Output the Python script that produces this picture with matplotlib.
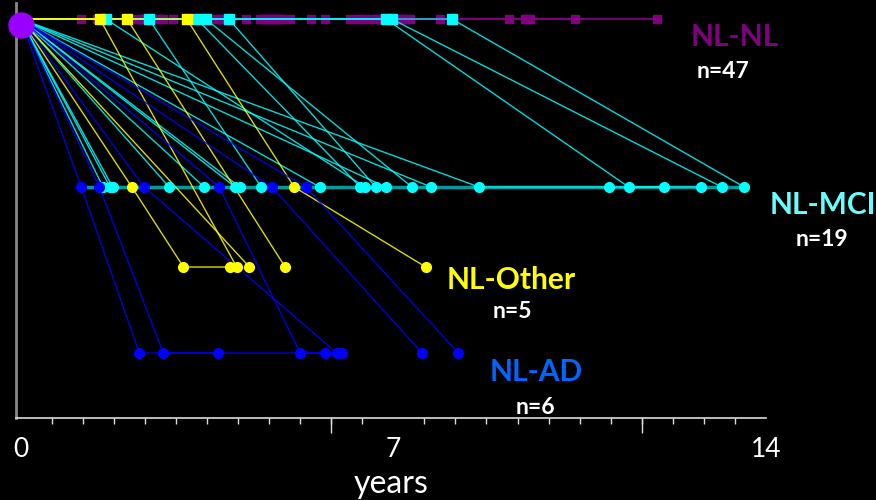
import numpy as np
import matplotlib
matplotlib.use("Agg")
from matplotlib import pyplot as plt

# ---- data (years) ----
rows = {"NL": 3.99, "MCI": 2.31, "Other": 1.51, "AD": 0.65}

# last follow-up of stable subjects (NL-NL, n=47)
nl_nl_last = [1.13, 1.44, 2.21, 2.26, 2.30, 2.34, 2.56, 2.60, 2.68, 2.86,
              3.69, 3.74, 3.78, 3.84, 4.23, 4.50, 4.57, 4.60, 4.65, 4.68,
              4.72, 4.78, 4.82, 4.87, 4.91, 5.07, 5.46, 5.72, 6.19, 6.34,
              6.40, 6.49, 6.64, 6.70, 6.78, 7.06, 7.12, 7.18, 7.25, 7.31,
              7.88, 9.17, 9.47, 9.52, 9.57, 10.41, 11.95]

# converters: visits after baseline, (diagnosis, years)
nl_mci = [
    [("NL", 1.60), ("MCI", 6.47)],
    [("NL", 2.41), ("MCI", 4.52)],
    [("NL", 3.31), ("MCI", 6.38)],
    [("NL", 3.48), ("MCI", 7.35)],
    [("NL", 3.91), ("MCI", 6.67)],
    [("NL", 6.86), ("MCI", 11.42), ("MCI", 12.08)],
    [("NL", 6.97), ("MCI", 13.17)],
    [("NL", 8.10), ("MCI", 13.59)],
    [("MCI", 1.55)],
    [("MCI", 1.68)],
    [("MCI", 1.73)],
    [("MCI", 2.79)],
    [("MCI", 3.45)],
    [("MCI", 4.03)],
    [("MCI", 4.12)],
    [("MCI", 5.62)],
    [("MCI", 6.86)],
    [("MCI", 7.71)],
    [("MCI", 8.61), ("MCI", 11.05), ("MCI", 12.78)],
]
nl_other = [
    [("MCI", 2.09), ("Other", 3.06), ("Other", 3.93)],
    [("NL", 1.49), ("Other", 4.06)],
    [("NL", 2.00), ("Other", 4.97)],
    [("Other", 4.30)],
    [("NL", 3.12), ("MCI", 5.14), ("Other", 7.61)],
]
nl_ad = [
    [("MCI", 1.14), ("AD", 2.23), ("AD", 3.71)],
    [("MCI", 1.48), ("AD", 2.68), ("AD", 5.71)],
    [("MCI", 2.32), ("AD", 5.94)],
    [("MCI", 3.73), ("AD", 5.25), ("AD", 6.03)],
    [("MCI", 4.72), ("AD", 7.54)],
    [("MCI", 5.36), ("AD", 8.22)],
]

purple = "#800080"
cyan = "#00ffff"
teal = "#009a9a"
yellow = "#ffff00"
blue = "#0000ff"
font = ["Lato", "DejaVu Sans"]

fig = plt.figure(figsize=(8.76, 5), dpi=100, facecolor="black")
ax = fig.add_axes([16 / 876, 82 / 500, 750 / 876, 415 / 500])
ax.set_facecolor("black")
ax.set_xlim(-0.085, 14)
ax.set_ylim(0, 4.15)

# stable subjects
for t in nl_nl_last:
    ax.plot([0, t], [rows["NL"]] * 2, color=purple, lw=1.3, zorder=1)
ax.plot(nl_nl_last, [rows["NL"]] * len(nl_nl_last), "s", color=purple,
        ms=6, zorder=2)

# MCI row track
mci_t = [t for grp in (nl_mci, nl_other, nl_ad) for p in grp for d, t in p if d == "MCI"]
ax.plot([min(mci_t), max(mci_t)], [rows["MCI"]] * 2, color=teal, lw=2.5, zorder=2.5)


def draw_group(paths, col, z):
    for p in paths:
        xs = [0] + [t for d, t in p]
        ys = [rows["NL"]] + [rows[d] for d, t in p]
        ax.plot(xs, ys, color=col, lw=1, alpha=0.85, zorder=z)
    for p in paths:
        for d, t in p:
            mk = "s" if d == "NL" else "o"
            ax.plot(t, rows[d], mk, color=col, ms=7 if d != "NL" else 6.5,
                    zorder=z + 3)


draw_group(nl_mci, cyan, 3)
draw_group(nl_other, yellow, 4)
draw_group(nl_ad, blue, 5)

# baseline
ax.plot(0, rows["NL"] - 0.06, "o", color="#9900ff", ms=18, zorder=10, clip_on=False)

# axes styling
for s in ["top", "right"]:
    ax.spines[s].set_visible(False)
ax.spines["left"].set_color("#888888")
ax.spines["left"].set_linewidth(2)
ax.spines["bottom"].set_color("#dddddd")
ax.spines["bottom"].set_linewidth(1.2)
ax.set_yticks([])
ax.set_xticks([0, 7, 14])
ax.set_xticklabels(["0", "7", "14"], fontsize=19, color="white", family=font)
ax.tick_params(axis="x", which="major", length=0, pad=14)
minor = np.arange(25) * 14 / 24
ax.set_xticks(minor, minor=True)
ax.tick_params(axis="x", which="minor", length=4, color="#dddddd", width=1)
ax.vlines(minor[[10, 20]], -0.035, 0, color="#dddddd", lw=1,
          transform=ax.get_xaxis_transform(), clip_on=False)
ax.set_xlabel("years", fontsize=23, color="white", family=font, labelpad=5)

# group labels
labels = [("NL-NL", "n=47", purple, 735, 37, 723, 72),
          ("NL-MCI", "n=19", "#66ffff", 823, 205, 822, 240),
          ("NL-Other", "n=5", yellow, 511, 280, 512, 312),
          ("NL-AD", "n=6", "#0066ff", 536, 372, 535, 407)]
for name, n, col, x1, y1, x2, y2 in labels:
    fig.text(x1 / 876, 1 - y1 / 500, name, color=col, fontsize=21.5,
             fontweight="bold", family=font, ha="center", va="center")
    fig.text(x2 / 876, 1 - y2 / 500, n, color="white", fontsize=16.5,
             fontweight="bold", family=font, ha="center", va="center")

fig.savefig("out.png", dpi=100, facecolor="black")
